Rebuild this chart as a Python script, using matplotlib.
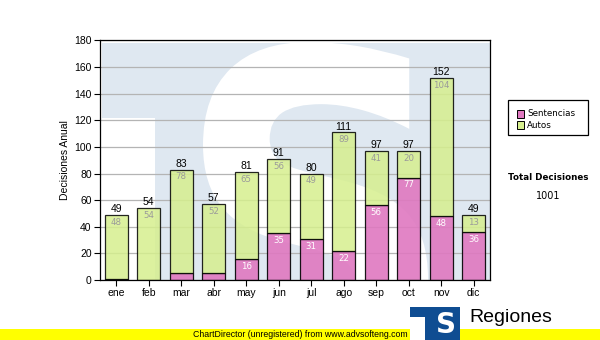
import matplotlib
matplotlib.use("Agg")
import matplotlib.pyplot as plt
from matplotlib.patches import Rectangle, PathPatch
from matplotlib.textpath import TextPath
from matplotlib.font_manager import FontProperties
from matplotlib.transforms import Affine2D
import numpy as np

# Monthly decisions, split by type
months = ["ene", "feb", "mar", "abr", "may", "jun", "jul", "ago", "sep", "oct", "nov", "dic"]
sentencias = [1, 0, 5, 5, 16, 35, 31, 22, 56, 77, 48, 36]
autos = [48, 54, 78, 52, 65, 56, 49, 89, 41, 20, 104, 13]
series_names = ["Sentencias", "Autos"]

SENT_COLOR = "#df78c0"
AUTO_COLOR = "#d6ef8e"
WM_BLUE = "#dfe8f1"

W, H = 600, 340
fig = plt.figure(figsize=(6, 3.4), dpi=100)
fig.patch.set_facecolor("white")


def px(x, y):
    """pixel position (from top-left) -> figure fraction"""
    return x / W, 1 - y / H


ax = fig.add_axes([100 / W, 1 - 280 / H, 390 / W, 239.5 / H])
ax.set_facecolor("white")

# Watermark logo behind the bars: light blue block, white notch and a big white S
ax.add_patch(Rectangle((0.006, 0), 0.994, 0.991, transform=ax.transAxes,
                       facecolor=WM_BLUE, edgecolor="none", zorder=0))
ax.add_patch(Rectangle((0, 0), 0.141, 0.675, transform=ax.transAxes,
                       facecolor="white", edgecolor="none", zorder=0.1))
s_path = TextPath((0, 0), "S", size=1,
                  prop=FontProperties(family="DejaVu Sans", weight="bold"))
ext = s_path.get_extents()
s_left, s_right, s_top, s_height = 203, 428, 42, 345
sx = (s_right - s_left) / ext.width
sy = s_height / ext.height
s_tr = (Affine2D().translate(-ext.x0, -ext.y1).scale(sx, sy)
        .translate(s_left, H - s_top).scale(1 / W, 1 / H) + fig.transFigure)
s_patch = PathPatch(s_path, transform=s_tr, facecolor="white",
                    edgecolor="none", zorder=0.2)
ax.add_patch(s_patch)
s_patch.set_clip_path(ax.patch)

x = np.arange(len(months))
totals = [s + a for s, a in zip(sentencias, autos)]

ax.set_axisbelow(True)
ax.yaxis.grid(True, color="#b4b4b4", linewidth=0.9, zorder=1)

ax.bar(x, sentencias, width=0.7, color=SENT_COLOR, edgecolor="black",
       linewidth=0.9, alpha=0.9, zorder=2)
ax.bar(x, autos, bottom=sentencias, width=0.7, color=AUTO_COLOR,
       edgecolor="black", linewidth=0.9, alpha=0.85, zorder=2)

for i in range(len(months)):
    ax.text(x[i], totals[i] + 0.6, str(totals[i]), ha="center", va="bottom",
            fontsize=7.5, family="Liberation Sans", color="black", zorder=3)
    ax.text(x[i], totals[i] - 2.2, str(autos[i]), ha="center", va="top",
            fontsize=6.2, family="DejaVu Sans", color="#9a9a9a", zorder=3)
    if sentencias[i] >= 10:
        ax.text(x[i], sentencias[i] - 2.2, str(sentencias[i]), ha="center",
                va="top", fontsize=6.2, family="DejaVu Sans", color="white",
                zorder=3)

ax.set_xlim(-0.5, len(months) - 0.5)
ax.set_ylim(0, 180)
ax.set_yticks(np.arange(0, 181, 20))
ax.set_xticks(x)
ax.set_xticklabels(months)
ax.tick_params(axis="both", length=4, width=0.8, labelsize=7.5, pad=2)
for lab in ax.get_xticklabels() + ax.get_yticklabels():
    lab.set_family("Liberation Sans")
for sp in ax.spines.values():
    sp.set_linewidth(0.9)
    sp.set_zorder(4)
ax.set_ylabel("Decisiones Anual", fontsize=7.5, family="Liberation Sans",
              labelpad=3)

# Legend box on the right, drawn by hand
x0, y0 = px(508, 135)
x1, y1 = px(588, 100)
fig.patches.append(Rectangle((x0, y0), x1 - x0, y1 - y0,
                             transform=fig.transFigure, facecolor="white",
                             edgecolor="black", linewidth=0.9))
for name, col, yc in zip(series_names, [SENT_COLOR, AUTO_COLOR], [114, 125]):
    sq_x, sq_y = px(517, yc + 3.5)
    fig.patches.append(Rectangle((sq_x, sq_y), 7 / W, 7 / H,
                                 transform=fig.transFigure, facecolor=col,
                                 edgecolor="black", linewidth=0.7))
    tx, ty = px(527, yc)
    fig.text(tx, ty, name, ha="left", va="center", fontsize=6.3,
             family="DejaVu Sans")

fig.text(*px(548, 178), "Total Decisiones", ha="center", va="center",
         fontsize=6.3, fontweight="bold", family="DejaVu Sans")
fig.text(*px(548, 196), str(sum(totals)), ha="center", va="center",
         fontsize=7, family="DejaVu Sans")

# Footer strip
fig.patches.append(Rectangle((0, 0), 1, 11 / H, transform=fig.transFigure,
                             facecolor="#ffff00", edgecolor="none", zorder=1))
fig.text(300 / W, 5.5 / H, "ChartDirector (unregistered) from www.advsofteng.com",
         ha="center", va="center", fontsize=6.3, family="Liberation Sans",
         zorder=2)

# Regiones logo
fig.patches.append(Rectangle((410 / W, 0), 50 / W, 33 / H,
                             transform=fig.transFigure, facecolor="#0f4d92",
                             edgecolor="none", zorder=3))
fig.patches.append(Rectangle((410 / W, 0), 15 / W, 23 / H,
                             transform=fig.transFigure, facecolor="white",
                             edgecolor="none", zorder=4))
fig.text(446 / W, 15 / H, "S", ha="center", va="center", fontsize=20,
         fontweight="bold", family="DejaVu Sans", color="white", zorder=5)
fig.text(469 / W, 1 - 322 / H, "Regiones", ha="left", va="baseline",
         fontsize=14, family="Liberation Sans", color="black", zorder=5)

fig.savefig("out.png", dpi=100)
